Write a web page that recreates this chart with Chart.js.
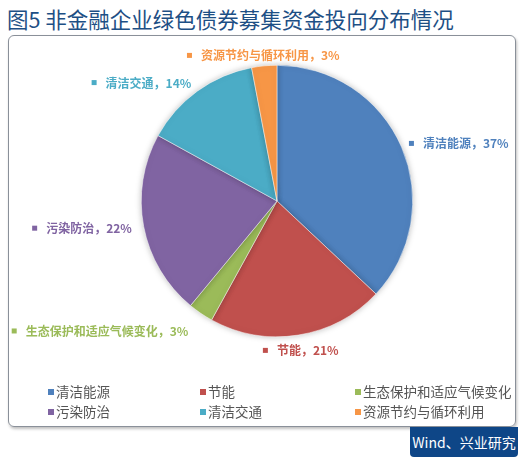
<!DOCTYPE html>
<html>
<head>
<meta charset="utf-8">
<script src="https://cdn.jsdelivr.net/npm/chart.js@4"></script>
<style>
  body { margin: 0; background: #fff; font-family: "Noto Sans CJK SC", sans-serif; }
  #title { position: absolute; left: 7px; top: 3px; font-size: 21.5px; color: #1d4f85; white-space: nowrap; }
  #frame { position: absolute; left: 8px; top: 35px; width: 506px; height: 390px; border: 1px solid #8a9099; border-radius: 6px; box-shadow: 1px 2px 3px rgba(0,0,0,0.25); }
  #wrap { position: absolute; left: 9px; top: 36px; width: 506px; height: 390px; }
  #logo { position: absolute; left: 410px; top: 427px; width: 108px; height: 30px; background: #0e4687; color: #fff; font-size: 14px; line-height: 30px; text-align: center; border-radius: 0 0 4px 4px; }
</style>
</head>
<body>
<div id="title">图5 非金融企业绿色债券募集资金投向分布情况</div>
<div id="frame"></div>
<div id="wrap"><canvas id="myChart" width="506" height="390"></canvas></div>
<div id="logo">Wind、兴业研究</div>
<script>
const labels = ['清洁能源', '节能', '生态保护和适应气候变化', '污染防治', '清洁交通', '资源节约与循环利用'];
const shares = [37, 21, 3, 22, 14, 3];
const colors = ['#4f81bd', '#c0504d', '#9bbb59', '#8064a2', '#4bacc6', '#f79646'];
// how far outside the pie each label sits (px)
const labelGap = [8, 16, 22, 12, 10, 10];

// soft glow behind the pie
const pieShadow = {
  id: 'pieShadow',
  beforeDatasetsDraw(chart) {
    chart.ctx.save();
    chart.ctx.shadowColor = 'rgba(0,0,0,0.25)';
    chart.ctx.shadowBlur = 6;
  },
  afterDatasetsDraw(chart) {
    chart.ctx.restore();
  }
};

// outside labels: "■ name，xx%"
const sliceLabels = {
  id: 'sliceLabels',
  afterDatasetsDraw(chart) {
    const ctx = chart.ctx;
    const meta = chart.getDatasetMeta(0);
    ctx.save();
    ctx.font = 'bold 12px "Noto Sans CJK SC", serif';
    ctx.textBaseline = 'middle';
    meta.data.forEach((arc, i) => {
      const p = arc.getProps(['x', 'y', 'startAngle', 'endAngle', 'outerRadius'], true);
      const mid = (p.startAngle + p.endAngle) / 2;
      const r = p.outerRadius + labelGap[i];
      const x = p.x + Math.cos(mid) * r;
      const y = p.y + Math.sin(mid) * r;
      const text = labels[i] + '，' + shares[i] + '%';
      const tw = ctx.measureText(text).width;
      const full = tw + 14;
      let left;
      if (Math.abs(Math.cos(mid)) < 0.3) left = x - full / 2;
      else if (Math.cos(mid) > 0) left = x;
      else left = x - full;
      ctx.fillStyle = colors[i];
      ctx.fillRect(left, y - 3, 5, 5);
      ctx.fillText(text, left + 14, y);
    });
    ctx.restore();
  }
};

// three-column legend under the pie
const gridLegend = {
  id: 'gridLegend',
  afterDraw(chart) {
    const ctx = chart.ctx;
    const colX = [39, 191, 346];
    const rowY = [356, 376];
    ctx.save();
    ctx.font = '13.5px "Noto Sans CJK SC", serif';
    ctx.textBaseline = 'middle';
    labels.forEach((name, i) => {
      const x = colX[i % 3];
      const y = rowY[Math.floor(i / 3)];
      ctx.fillStyle = colors[i];
      ctx.fillRect(x, y - 3, 6, 6);
      ctx.fillStyle = '#555';
      ctx.fillText(name, x + 8, y);
    });
    ctx.restore();
  }
};

const config = {
  type: 'pie',
  data: {
    labels: labels,
    datasets: [{
      data: shares,
      backgroundColor: colors,
      borderColor: '#ffffff',
      borderWidth: 0.5
    }]
  },
  options: {
    responsive: false,
    animation: false,
    layout: { padding: { left: 132, right: 102, top: 29, bottom: 89 } },
    plugins: {
      legend: { display: false },
      tooltip: { enabled: false }
    }
  },
  plugins: [pieShadow, sliceLabels, gridLegend]
};

const myChart = new Chart(document.getElementById('myChart'), config);
</script>
</body>
</html>
